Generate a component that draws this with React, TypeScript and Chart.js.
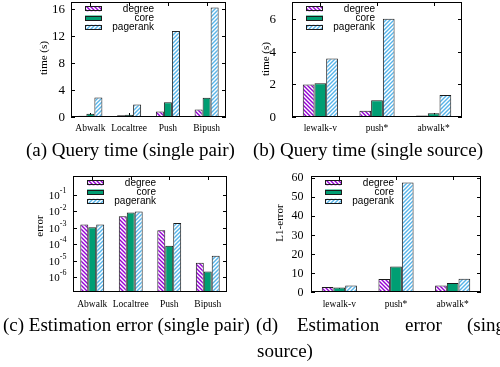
import React, { useEffect, useRef } from 'react';
import { Chart, registerables } from 'chart.js';

Chart.register(...registerables);

// ---------- data ----------
const seriesLabels = ['degree', 'core', 'pagerank'];

const pairMethods = ['Abwalk', 'Localtree', 'Push', 'Bipush'];
const pairTimeDegree = [0.2, 0.25, 0.8, 1.1];
const pairTimeCore = [0.5, 0.35, 2.2, 2.85];
const pairTimePagerank = [2.9, 1.85, 12.8, 16.3];
const pairTimeTicks = [0, 4, 8, 12, 16];

const sourceMethods = ['lewalk-v', 'push*', 'abwalk*'];
const sourceTimeDegree = [2.0, 0.39, 0.09];
const sourceTimeCore = [2.07, 1.02, 0.23];
const sourceTimePagerank = [3.58, 6.02, 1.35];
const sourceTimeTicks = [0, 2, 4, 6];

const pairErrDegree = [1.6e-3, 5e-3, 7e-4, 7.5e-6];
const pairErrCore = [1.1e-3, 8.5e-3, 8e-5, 2.2e-6];
const pairErrPagerank = [1.6e-3, 1e-2, 2e-3, 2e-5];
const pairErrTickExponents = [-1, -2, -3, -4, -5, -6];

const sourceErrDegree = [2.6, 6.8, 3.4];
const sourceErrCore = [2.3, 13.4, 4.7];
const sourceErrPagerank = [3.4, 57.5, 7.0];
const sourceErrTicks = [0, 10, 20, 30, 40, 50, 60];

// ---------- styling ----------
const DEGREE_COLOR = '#9400D3';
const CORE_COLOR = '#009E73';
const PAGERANK_COLOR = '#56B4E9';
const BORDER = '#1a1a1a';
const SERIF = '"Liberation Serif", "Times New Roman", serif';
const SANS = '"Liberation Sans", Arial, sans-serif';

function makeHatch(ctx: CanvasRenderingContext2D, color: string, dir: number) {
  const size = 4;
  const c = document.createElement('canvas');
  c.width = size;
  c.height = size;
  const g = c.getContext('2d')!;
  g.fillStyle = '#ffffff';
  g.fillRect(0, 0, size, size);
  g.strokeStyle = color;
  g.lineWidth = 1.4;
  g.beginPath();
  if (dir === 1) {
    g.moveTo(0, size); g.lineTo(size, 0);
    g.moveTo(-1, 1); g.lineTo(1, -1);
    g.moveTo(size - 1, size + 1); g.lineTo(size + 1, size - 1);
  } else {
    g.moveTo(0, 0); g.lineTo(size, size);
    g.moveTo(-1, size - 1); g.lineTo(1, size + 1);
    g.moveTo(size - 1, -1); g.lineTo(size + 1, 1);
  }
  g.stroke();
  return ctx.createPattern(c, 'repeat') as CanvasPattern;
}

type PanelProps = {
  left: number; top: number; width: number; height: number;
  plot: { l: number; t: number; r: number; b: number };
  labels: string[];
  series: number[][];
  log?: boolean;
  yMin: number; yMax: number;
  yTicks: number[];
  yTitle: string;
  titleX: number; titleY: number;
  labelGap: number;
  xPad: number;
  tickFont: number;
};

function Panel(p: PanelProps) {
  const ref = useRef<HTMLCanvasElement>(null);
  useEffect(() => {
    const canvas = ref.current!;
    const ctx = canvas.getContext('2d')!;
    const fills = [
      makeHatch(ctx, DEGREE_COLOR, -1),
      CORE_COLOR,
      makeHatch(ctx, PAGERANK_COLOR, 1),
    ];

    const framePlugin = {
      id: 'frame',
      beforeDatasetsDraw(chart: any) {
        const c = chart.ctx as CanvasRenderingContext2D;
        const { left, right, top, bottom } = chart.chartArea;
        const ys = chart.scales.y;
        const xs = chart.scales.x;
        c.save();
        c.strokeStyle = '#000';
        c.lineWidth = 1;
        c.beginPath();
        for (const v of p.yTicks) {
          const py = Math.round(ys.getPixelForValue(v)) + 0.5;
          c.moveTo(left, py); c.lineTo(left + 4, py);
          c.moveTo(right, py); c.lineTo(right - 4, py);
        }
        for (let i = 0; i < p.labels.length; i++) {
          const px = Math.round(xs.getPixelForValue(i)) + 0.5;
          c.moveTo(px, top); c.lineTo(px, top + 4);
          c.moveTo(px, bottom); c.lineTo(px, bottom - 4);
        }
        c.stroke();
        c.restore();
      },
      afterDatasetsDraw(chart: any) {
        const c = chart.ctx as CanvasRenderingContext2D;
        const { left, right, top, bottom } = chart.chartArea;
        const ys = chart.scales.y;
        c.save();
        // frame
        c.strokeStyle = '#000';
        c.lineWidth = 1;
        c.strokeRect(Math.round(left) + 0.5, Math.round(top) + 0.5,
          Math.round(right - left) - 1, Math.round(bottom - top) - 1);
        // y tick labels
        c.fillStyle = '#000';
        c.textBaseline = 'middle';
        const xEnd = left - p.labelGap;
        for (const v of p.yTicks) {
          const py = ys.getPixelForValue(v);
          if (p.log) {
            const exp = String(Math.round(Math.log10(v)));
            c.font = `8px ${SERIF}`;
            const ew = c.measureText(exp).width;
            c.textAlign = 'left';
            c.fillText(exp, xEnd - ew, py - 4);
            c.font = `${p.tickFont}px ${SERIF}`;
            c.textAlign = 'right';
            c.fillText('10', xEnd - ew, py + 1);
          } else {
            c.font = `${p.tickFont}px ${SERIF}`;
            c.textAlign = 'right';
            c.fillText(String(v), xEnd, py + 0.5);
          }
        }
        // y title
        c.save();
        c.translate(p.titleX - p.left, p.titleY - p.top);
        c.rotate(-Math.PI / 2);
        c.font = `11px ${SERIF}`;
        c.textAlign = 'center';
        c.textBaseline = 'middle';
        c.fillText(p.yTitle, 0, 0);
        c.restore();
        // legend
        chart.data.datasets.forEach((ds: any, i: number) => {
          const cy = top + 6.8 + i * 9.2;
          const kx = left + 14;
          c.fillStyle = ds.backgroundColor;
          c.fillRect(kx, cy - 2.5, 17, 5);
          c.strokeStyle = BORDER;
          c.lineWidth = 1;
          c.strokeRect(kx + 0.5, Math.round(cy - 2.5) + 0.5, 16, 4);
          c.fillStyle = '#000';
          c.font = `10px ${SANS}`;
          c.textAlign = 'right';
          c.textBaseline = 'middle';
          c.fillText(ds.label, left + 83, cy + 0.5);
        });
        c.restore();
      },
    };

    const chart = new Chart(canvas, {
      type: 'bar',
      data: {
        labels: p.labels,
        datasets: seriesLabels.map((s, i) => ({
          label: s,
          data: p.series[i],
          backgroundColor: fills[i] as any,
          borderColor: BORDER,
          borderWidth: 1,
          borderSkipped: false,
          categoryPercentage: 0.62,
          barPercentage: 1,
        })),
      },
      options: {
        animation: false,
        responsive: false,
        maintainAspectRatio: false,
        devicePixelRatio: 1,
        layout: {
          padding: {
            top: p.plot.t - p.top,
            right: p.left + p.width - p.plot.r,
            left: 0,
            bottom: 0,
          },
        },
        plugins: {
          legend: { display: false },
          tooltip: { enabled: false },
        },
        scales: {
          x: {
            type: 'category',
            offset: true,
            grid: { display: false, drawTicks: false },
            border: { display: false },
            ticks: {
              font: { family: SERIF, size: 9.5 },
              color: '#000',
              padding: p.xPad,
              maxRotation: 0,
              autoSkip: false,
            },
            afterFit: (s: any) => { s.height = p.top + p.height - p.plot.b; },
          },
          y: {
            type: p.log ? 'logarithmic' : 'linear',
            min: p.yMin,
            max: p.yMax,
            grid: { display: false, drawTicks: false },
            border: { display: false },
            ticks: { display: false },
            afterFit: (s: any) => { s.width = p.plot.l - p.left; },
          },
        },
      } as any,
      plugins: [framePlugin],
    });
    return () => chart.destroy();
  }, []);
  return (
    <canvas
      ref={ref}
      width={p.width}
      height={p.height}
      style={{ position: 'absolute', left: p.left, top: p.top, width: p.width, height: p.height }}
    />
  );
}

const capStyle: React.CSSProperties = {
  position: 'absolute',
  fontFamily: SERIF,
  fontSize: 19,
  lineHeight: '19px',
  whiteSpace: 'nowrap',
  color: '#000',
};

export default function App() {
  const pairErrTicks = pairErrTickExponents.map((e) => Math.pow(10, e));
  return (
    <div style={{ position: 'fixed', left: 0, top: 0, width: 500, height: 367, background: '#fff', overflow: 'hidden' }}>
      <Panel
        left={0} top={0} width={250} height={140}
        plot={{ l: 71, t: 2, r: 226, b: 117 }}
        labels={pairMethods}
        series={[pairTimeDegree, pairTimeCore, pairTimePagerank]}
        yMin={0} yMax={17.1} yTicks={pairTimeTicks}
        yTitle="time (s)" titleX={44} titleY={58}
        labelGap={6} xPad={6} tickFont={13}
      />
      <Panel
        left={250} top={0} width={250} height={140}
        plot={{ l: 292, t: 2, r: 462, b: 117 }}
        labels={sourceMethods}
        series={[sourceTimeDegree, sourceTimeCore, sourceTimePagerank]}
        yMin={0} yMax={7.05} yTicks={sourceTimeTicks}
        yTitle="time (s)" titleX={266} titleY={59}
        labelGap={16} xPad={6} tickFont={13}
      />
      <Panel
        left={0} top={160} width={250} height={155}
        plot={{ l: 73, t: 176, r: 227, b: 292 }}
        labels={pairMethods}
        series={[pairErrDegree, pairErrCore, pairErrPagerank]}
        log yMin={1.23e-7} yMax={1.44} yTicks={pairErrTicks}
        yTitle="error" titleX={40} titleY={226}
        labelGap={6.5} xPad={7} tickFont={11}
      />
      <Panel
        left={250} top={160} width={250} height={155}
        plot={{ l: 311, t: 176, r: 481, b: 292 }}
        labels={sourceMethods}
        series={[sourceErrDegree, sourceErrCore, sourceErrPagerank]}
        yMin={0} yMax={60.9} yTicks={sourceErrTicks}
        yTitle="L1-error" titleX={280} titleY={223}
        labelGap={7.5} xPad={7} tickFont={12}
      />
      <div style={{ ...capStyle, left: 26, top: 140 }}>(a) Query time (single pair)</div>
      <div style={{ ...capStyle, left: 253, top: 140 }}>(b) Query time (single source)</div>
      <div style={{ ...capStyle, left: 3, top: 315 }}>(c) Estimation error (single pair)</div>
      <div style={{ ...capStyle, left: 256, top: 315 }}>(d)</div>
      <div style={{ ...capStyle, left: 297, top: 315 }}>Estimation</div>
      <div style={{ ...capStyle, left: 405, top: 315 }}>error</div>
      <div style={{ ...capStyle, left: 467, top: 315 }}>(single</div>
      <div style={{ ...capStyle, left: 257, top: 341 }}>source)</div>
    </div>
  );
}
